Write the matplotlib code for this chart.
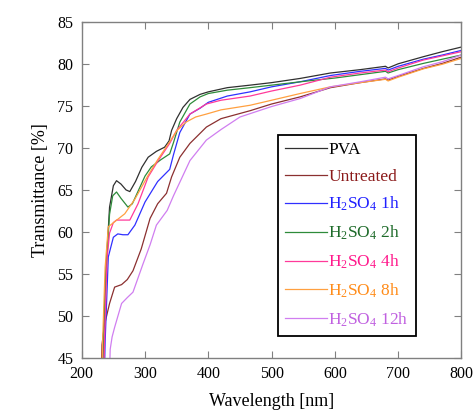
import matplotlib
matplotlib.use("Agg")
import matplotlib.pyplot as plt

plt.rcParams['font.family'] = ['Liberation Serif', 'DejaVu Serif']
plt.rcParams['mathtext.fontset'] = 'custom'
plt.rcParams['mathtext.rm'] = 'Liberation Serif'
plt.rcParams['mathtext.it'] = 'Liberation Serif:italic'

# transmittance spectra (wavelength in nm, T in %)
wl_pva = [232, 234, 238, 244, 250, 255, 262, 270, 276, 285, 295, 305, 318, 331, 338, 342, 350, 360, 371, 387,
          400, 430, 466, 500, 545, 593, 640, 680, 684, 700, 740, 770, 800]
t_pva = [40, 46.9, 55.1, 62.95, 65.5, 66.1, 65.7, 65.0, 64.8, 66.0, 67.7, 68.9, 69.6, 70.1, 70.85, 72.1, 73.5, 74.85,
         75.8, 76.4, 76.7, 77.2, 77.5, 77.8, 78.3, 78.95, 79.35, 79.75, 79.55, 80.05, 80.9, 81.5, 82.05]

wl_untr = [230, 232, 236, 244, 252, 263, 272, 281, 294, 308, 320, 334, 342, 355, 371, 397, 420, 466, 500, 545,
           593, 640, 680, 684, 700, 740, 770, 800]
t_untr = [40, 46.5, 48.9, 51.45, 53.4, 53.7, 54.3, 55.35, 57.95, 61.6, 63.35, 64.6, 66.55, 68.9, 70.55, 72.5, 73.5,
          74.45, 75.25, 76.1, 77.2, 77.8, 78.25, 78.1, 78.55, 79.5, 80.1, 80.85]

wl_1h = [235, 237, 242, 250, 257, 265, 273, 284, 300, 320, 339, 345, 355, 371, 387, 400, 430, 466, 500, 545,
         593, 640, 680, 684, 700, 740, 770, 800]
t_1h = [40, 46.9, 57.0, 59.35, 59.75, 59.65, 59.65, 60.8, 63.55, 66.0, 67.45, 69.2, 71.85, 74.05, 74.75, 75.45, 76.2,
        76.7, 77.3, 77.9, 78.65, 79.15, 79.5, 79.3, 79.75, 80.6, 81.1, 81.65]

wl_2h = [232, 234, 238, 244, 249, 255, 262, 273, 280, 290, 300, 310, 325, 339, 345, 355, 371, 387, 400, 430,
         466, 500, 545, 600, 650, 680, 684, 700, 740, 770, 800]
t_2h = [40, 46.9, 54.76, 62.1, 64.3, 64.75, 64.0, 62.95, 63.35, 65.0, 66.65, 67.75, 68.6, 69.3, 70.65, 73.1, 75.25,
        76.1, 76.5, 76.9, 77.2, 77.5, 77.9, 78.35, 78.85, 79.15, 78.95, 79.35, 80.1, 80.6, 81.1]

wl_4h = [234, 236, 240, 244, 250, 255, 276, 289, 305, 320, 339, 350, 371, 397, 420, 466, 500, 545, 593, 640,
         680, 684, 700, 740, 770, 800]
t_4h = [40, 46.9, 56.7, 59.85, 61.1, 61.4, 61.4, 63.35, 66.55, 68.4, 70.55, 72.1, 74.05, 75.25, 75.7, 76.2, 76.8,
        77.5, 78.45, 78.95, 79.3, 79.1, 79.55, 80.5, 81.0, 81.5]

wl_8h = [231, 233, 237, 242, 252, 268, 284, 305, 320, 339, 350, 365, 380, 397, 420, 466, 500, 545, 593, 640,
         680, 684, 700, 740, 770, 800]
t_8h = [40, 46.9, 55.75, 60.6, 61.2, 62.15, 63.9, 66.75, 68.6, 70.75, 72.05, 73.1, 73.7, 74.05, 74.55, 75.1, 75.7,
        76.5, 77.3, 77.8, 78.2, 78.0, 78.45, 79.45, 80.0, 80.7]

wl_12h = [243, 245, 248, 252, 263, 272, 281, 297, 308, 318, 335, 345, 371, 397, 420, 450, 466, 500, 545, 593,
          640, 680, 684, 700, 740, 770, 800]
t_12h = [40, 45.98, 47.45, 48.6, 51.45, 52.15, 52.8, 56.2, 58.45, 60.8, 62.55, 64.3, 68.5, 70.95, 72.2, 73.7, 74.1,
         74.95, 75.9, 77.3, 77.9, 78.45, 78.25, 78.65, 79.7, 80.3, 81.1]

labels = ['PVA', 'Untreated', 'H$_2$SO$_4$ 1h', 'H$_2$SO$_4$ 2h', 'H$_2$SO$_4$ 4h',
          'H$_2$SO$_4$ 8h', 'H$_2$SO$_4$ 12h']
line_colors = ['#303030', '#8b3030', '#3030ff', '#2e8b3a', '#ff3a9a', '#ffa040', '#d07ef0']
text_colors = ['#000000', '#8b1a1a', '#2020ff', '#1e6b2a', '#ff1a8c', '#ff8c1a', '#c060e0']

series = [(wl_pva, t_pva), (wl_untr, t_untr), (wl_1h, t_1h), (wl_2h, t_2h),
          (wl_4h, t_4h), (wl_8h, t_8h), (wl_12h, t_12h)]

fig = plt.figure(figsize=(4.77, 4.16), dpi=100)
ax = fig.add_axes([0.1713, 0.1406, 0.7962, 0.8058])

for (x, y), lab, c in zip(series, labels, line_colors):
    ax.plot(x, y, color=c, lw=0.9, label=lab)

ax.set_xlim(200, 800)
ax.set_ylim(45, 85)
ax.set_xticks(range(200, 801, 100))
ax.set_yticks(range(45, 86, 5))
ax.tick_params(direction='in', top=True, right=True, length=5, width=0.8,
               color='#808080', labelsize=11.5, pad=6)
for s in ax.spines.values():
    s.set_color('#808080')
    s.set_linewidth(1.0)

ax.set_xlabel('Wavelength [nm]', fontsize=13, labelpad=8)
ax.set_ylabel('Transmittance [%]', fontsize=13, labelpad=6)

leg = ax.legend(loc='upper left', bbox_to_anchor=(0.517, 0.664), borderaxespad=0,
                fontsize=12.5, handlelength=2.4, handletextpad=0.1, labelspacing=0.6,
                borderpad=0.4, fancybox=False, framealpha=1)
leg.get_frame().set_edgecolor('black')
leg.get_frame().set_linewidth(1.3)
for txt, c in zip(leg.get_texts(), text_colors):
    txt.set_color(c)

fig.savefig('out.png', dpi=100)
